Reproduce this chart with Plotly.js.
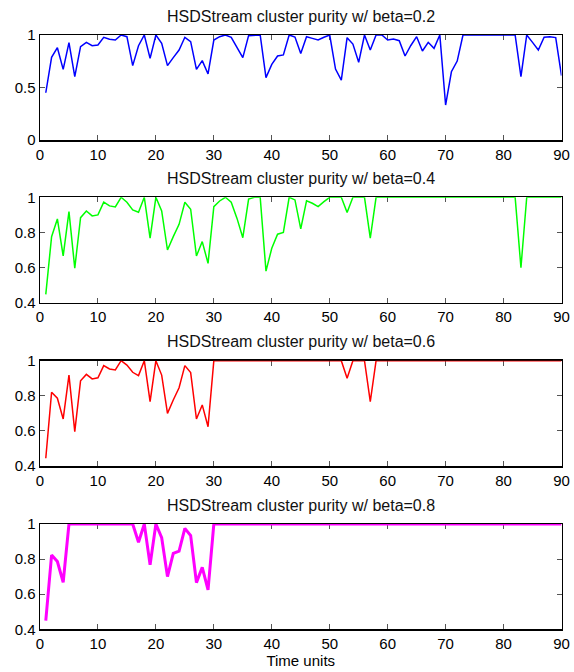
<!DOCTYPE html>
<html>
<head>
<meta charset="utf-8">
<script src="https://cdn.plot.ly/plotly-3.0.1.min.js"></script>
<style>html,body{margin:0;padding:0;background:#fff}#chart{width:574px;height:672px}</style>
</head>
<body>
<div id="chart"></div>
<script>
const timeUnits = Array.from({length: 90}, (_, i) => i + 1);

const purityBeta02 = [
  0.45, 0.787, 0.879, 0.673, 0.927, 0.603, 0.889, 0.93, 0.898, 0.905,
  0.978, 0.959, 0.952, 1.0, 0.984, 0.708, 0.898, 1.0, 0.778, 1.0,
  0.92, 0.708, 0.784, 0.857, 0.978, 0.937, 0.673, 0.756, 0.629, 0.952,
  0.984, 1.0, 0.978, 0.879, 0.784, 0.994, 1.0, 1.0, 0.594, 0.72,
  0.8, 0.81, 1.0, 0.98, 0.825, 0.984, 0.968, 0.952, 0.978, 1.0,
  0.676, 0.571, 0.975, 0.914, 0.74, 1.0, 0.857, 1.0, 1.0, 0.952,
  0.962, 0.946, 0.8, 0.9, 0.984, 0.848, 0.93, 0.873, 1.0, 0.333,
  0.65, 0.752, 1.0, 1.0, 1.0, 1.0, 1.0, 1.0, 1.0, 1.0,
  1.0, 1.0, 0.603, 1.0, 0.93, 0.857, 0.978, 0.984, 0.975, 0.613
];

const purityBeta04 = [
  0.447, 0.776, 0.877, 0.666, 0.918, 0.596, 0.884, 0.922, 0.894, 0.9,
  0.972, 0.951, 0.945, 1.0, 0.972, 0.928, 0.915, 1.0, 0.767, 1.0,
  0.922, 0.7, 0.776, 0.846, 0.972, 0.932, 0.666, 0.748, 0.624, 0.947,
  0.979, 1.0, 0.972, 0.88, 0.77, 0.99, 1.0, 1.0, 0.58, 0.71,
  0.79, 0.8, 1.0, 0.985, 0.82, 0.98, 0.966, 0.947, 0.975, 1.0,
  1.0, 1.0, 0.913, 1.0, 1.0, 1.0, 0.768, 1.0, 1.0, 1.0,
  1.0, 1.0, 1.0, 1.0, 1.0, 1.0, 1.0, 1.0, 1.0, 1.0,
  1.0, 1.0, 1.0, 1.0, 1.0, 1.0, 1.0, 1.0, 1.0, 1.0,
  1.0, 1.0, 0.6, 1.0, 1.0, 1.0, 1.0, 1.0, 1.0, 1.0
];

const purityBeta06 = [
  0.444, 0.82, 0.786, 0.668, 0.918, 0.596, 0.886, 0.922, 0.896, 0.903,
  0.972, 0.953, 0.947, 1.0, 0.975, 0.934, 0.915, 1.0, 0.767, 1.0,
  0.918, 0.7, 0.776, 0.846, 0.972, 0.932, 0.668, 0.748, 0.624, 1.0,
  1.0, 1.0, 1.0, 1.0, 1.0, 1.0, 1.0, 1.0, 1.0, 1.0,
  1.0, 1.0, 1.0, 1.0, 1.0, 1.0, 1.0, 1.0, 1.0, 1.0,
  1.0, 1.0, 0.9, 1.0, 1.0, 1.0, 0.767, 1.0, 1.0, 1.0,
  1.0, 1.0, 1.0, 1.0, 1.0, 1.0, 1.0, 1.0, 1.0, 1.0,
  1.0, 1.0, 1.0, 1.0, 1.0, 1.0, 1.0, 1.0, 1.0, 1.0,
  1.0, 1.0, 1.0, 1.0, 1.0, 1.0, 1.0, 1.0, 1.0, 1.0
];

const purityBeta08 = [
  0.45, 0.823, 0.786, 0.668, 1.0, 1.0, 1.0, 1.0, 1.0, 1.0,
  1.0, 1.0, 1.0, 1.0, 1.0, 1.0, 0.896, 1.0, 0.767, 1.0,
  0.922, 0.7, 0.833, 0.846, 0.975, 0.934, 0.666, 0.753, 0.625, 1.0,
  1.0, 1.0, 1.0, 1.0, 1.0, 1.0, 1.0, 1.0, 1.0, 1.0,
  1.0, 1.0, 1.0, 1.0, 1.0, 1.0, 1.0, 1.0, 1.0, 1.0,
  1.0, 1.0, 1.0, 1.0, 1.0, 1.0, 1.0, 1.0, 1.0, 1.0,
  1.0, 1.0, 1.0, 1.0, 1.0, 1.0, 1.0, 1.0, 1.0, 1.0,
  1.0, 1.0, 1.0, 1.0, 1.0, 1.0, 1.0, 1.0, 1.0, 1.0,
  1.0, 1.0, 1.0, 1.0, 1.0, 1.0, 1.0, 1.0, 1.0, 1.0
];

const panelTitles = [
  "HSDStream cluster purity w/ beta=0.2",
  "HSDStream cluster purity w/ beta=0.4",
  "HSDStream cluster purity w/ beta=0.6",
  "HSDStream cluster purity w/ beta=0.8"
];
const xTickVals = [0, 10, 20, 30, 40, 50, 60, 70, 80, 90];
const xAxisLabel = "Time units";

const series = [purityBeta02, purityBeta04, purityBeta06, purityBeta08];
const colors = ["#0000ff", "#00ff00", "#ff0000", "#ff00ff"];
const widths = [1.5, 1.5, 1.5, 3];

const W = 574, H = 672;
const boxes = [[35, 140], [197.3, 302.7], [360.7, 466], [524, 629.3]];
const xLeft = 40, xRight = 561.5;
const yRanges = [[0, 1], [0.4, 1], [0.4, 1], [0.4, 1]];
const yTicks = [[0, 0.5, 1], [0.4, 0.6, 0.8, 1], [0.4, 0.6, 0.8, 1], [0.4, 0.6, 0.8, 1]];

const fam = "Liberation Sans, Arial, sans-serif";
const tickFont = {family: fam, size: 15, color: "#000"};
const titleFont = {family: fam, size: 16, color: "#111"};
const traces = [];
const layout = {
  width: W, height: H,
  margin: {l: 0, r: 0, t: 0, b: 0},
  paper_bgcolor: "#fff", plot_bgcolor: "#fff",
  showlegend: false,
  font: tickFont,
  annotations: []
};

series.forEach((ys, i) => {
  const n = i === 0 ? "" : String(i + 1);
  traces.push({
    x: timeUnits, y: ys, type: "scatter", mode: "lines",
    line: {color: colors[i], width: widths[i]},
    cliponaxis: false,
    xaxis: "x" + n, yaxis: "y" + n, hoverinfo: "skip"
  });
  const [top, bot] = boxes[i];
  layout["xaxis" + n] = {
    domain: [xLeft / W, xRight / W],
    anchor: "y" + n,
    range: [0, 90],
    tickvals: xTickVals,
    ticks: "inside", ticklen: 5, tickcolor: "#555", tickwidth: 1,
    showline: true, linecolor: "#000", linewidth: 1.5, mirror: "ticks",
    showgrid: false, zeroline: false, layer: "below traces",
    tickfont: tickFont, fixedrange: true,
    title: i === 3 ? {text: xAxisLabel, font: tickFont, standoff: 1} : {text: ""}
  };
  layout["yaxis" + n] = {
    domain: [1 - bot / H, 1 - top / H],
    anchor: "x" + n,
    range: yRanges[i],
    tickvals: yTicks[i],
    ticks: "inside", ticklen: 5, tickcolor: "#555", tickwidth: 1,
    showline: true, linecolor: "#000", linewidth: 1.5, mirror: "ticks",
    showgrid: false, zeroline: false, layer: "below traces",
    tickfont: tickFont, fixedrange: true
  };
  layout.annotations.push({
    text: panelTitles[i], xref: "paper", yref: "paper",
    x: (xLeft + xRight) / 2 / W, y: 1 - (top - 19) / H,
    xanchor: "center", yanchor: "middle", showarrow: false,
    font: titleFont
  });
});

Plotly.newPlot("chart", traces, layout, {staticPlot: true, displayModeBar: false});
</script>
</body>
</html>
